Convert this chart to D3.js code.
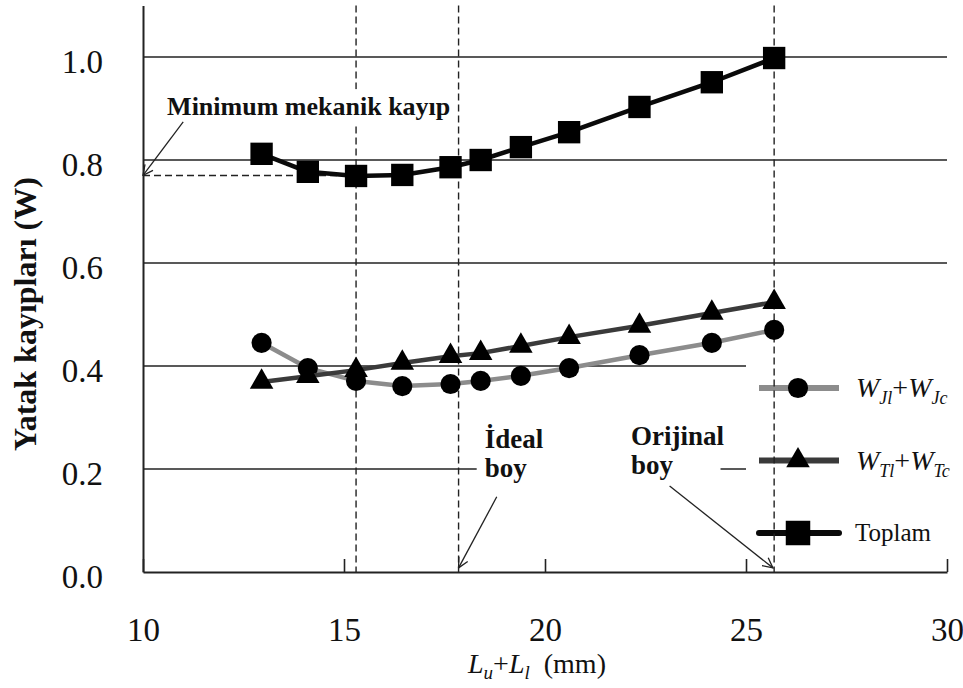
<!DOCTYPE html>
<html lang="tr">
<head>
<meta charset="utf-8">
<title>Yatak kayıpları</title>
<script src="https://d3js.org/d3.v7.min.js"></script>
<style>
  body { margin: 0; background: #fff; }
  text { font-family: "Liberation Serif", "Times New Roman", serif; fill: #111; }
</style>
</head>
<body>
<div id="chart"></div>
<script>
// values
var lengths     = [12.95, 14.1, 15.3, 16.45, 17.65, 18.4, 19.4, 20.6, 22.35, 24.15, 25.7];
var journalLoss = [0.445, 0.396, 0.371, 0.361, 0.365, 0.371, 0.381, 0.396, 0.421, 0.445, 0.470];
var thrustLoss  = [0.369, 0.380, 0.392, 0.406, 0.419, 0.425, 0.439, 0.456, 0.478, 0.503, 0.524];
var totalLoss   = [0.812, 0.777, 0.769, 0.771, 0.786, 0.800, 0.825, 0.854, 0.903, 0.951, 0.998];
var xTicks = [10, 15, 20, 25, 30];
var yTicks = [0, 0.2, 0.4, 0.6, 0.8, 1.0];
var markLines = [15.3, 17.85, 25.7];   // minimum, ideal, original length
var minLoss = 0.77;

var width = 963, height = 688;

var svg = d3.select("#chart").append("svg")
  .attr("width", width)
  .attr("height", height);

var x = d3.scaleLinear().domain([10, 30]).range([143, 947]);
var y = d3.scaleLinear().domain([0, 1.1]).range([572, 5.5]);

// arrow head (open V)
svg.append("defs").append("marker")
  .attr("id", "arrow")
  .attr("viewBox", "0 0 12 12")
  .attr("refX", 11).attr("refY", 6)
  .attr("markerWidth", 12).attr("markerHeight", 12)
  .attr("markerUnits", "userSpaceOnUse")
  .attr("orient", "auto")
  .append("path")
  .attr("d", "M1,1 L11,6 L1,11")
  .attr("fill", "none")
  .attr("stroke", "#222")
  .attr("stroke-width", 1.3);

// horizontal grid lines (lower ones stop where the legend begins)
svg.append("g").selectAll("line")
  .data(yTicks.filter(function(d) { return d > 0; }))
  .enter().append("line")
  .attr("x1", x(10))
  .attr("x2", function(d) { return d < 0.5 ? x(25) : x(30); })
  .attr("y1", function(d) { return y(d); })
  .attr("y2", function(d) { return y(d); })
  .attr("stroke", "#222")
  .attr("stroke-width", 1.6);

// legend
var series = [
  { values: journalLoss, color: "#8c8c8c", symbol: d3.symbolCircle, size: 320 },
  { values: thrustLoss,  color: "#3a3a3a", symbol: d3.symbolTriangle, size: 240 },
  { values: totalLoss,   color: "#0a0a0a", symbol: d3.symbolSquare, size: 500 }
];

var legend = svg.append("g").attr("transform", "translate(759,388)");
series.forEach(function(s, i) {
  var row = legend.append("g").attr("transform", "translate(0," + (i * 72.5) + ")");
  row.append("line")
    .attr("x1", 0).attr("x2", 80)
    .attr("stroke", s.color)
    .attr("stroke-width", 6)
    .attr("stroke-linecap", i == 2 ? "round" : "butt");
  row.append("path")
    .attr("transform", "translate(39,0)")
    .attr("d", d3.symbol().type(s.symbol).size(i == 2 ? 600 : s.size)())
    .attr("fill", "#000");
});

function subLabel(g, letter, sub1, sub2) {
  var t = g.append("text").attr("x", 97).attr("y", 9).style("font-size", "28px");
  t.append("tspan").style("font-style", "italic").text("W");
  t.append("tspan").style("font-style", "italic").style("font-size", "18px").attr("dy", 7).text(letter + sub1);
  t.append("tspan").attr("dy", -7).text("+");
  t.append("tspan").style("font-style", "italic").text("W");
  t.append("tspan").style("font-style", "italic").style("font-size", "18px").attr("dy", 7).text(letter + sub2);
}
subLabel(legend, "J", "l", "c");
subLabel(legend.append("g").attr("transform", "translate(0,72.5)"), "T", "l", "c");
legend.append("text")
  .attr("x", 96).attr("y", 145 + 8)
  .style("font-size", "25px")
  .text("Toplam");

// dashed reference lines
svg.append("g").selectAll("line")
  .data(markLines)
  .enter().append("line")
  .attr("x1", function(d) { return x(d); })
  .attr("x2", function(d) { return x(d); })
  .attr("y1", y(1.1))
  .attr("y2", y(0))
  .attr("stroke", "#222")
  .attr("stroke-width", 1.4)
  .attr("stroke-dasharray", "7,4");

svg.append("line")
  .attr("x1", x(10)).attr("x2", x(markLines[0]))
  .attr("y1", y(minLoss)).attr("y2", y(minLoss))
  .attr("stroke", "#222")
  .attr("stroke-width", 1.4)
  .attr("stroke-dasharray", "7,4");

// data series
var line = d3.line()
  .x(function(d, i) { return x(lengths[i]); })
  .y(function(d) { return y(d); });

series.forEach(function(s) {
  svg.append("path")
    .datum(s.values)
    .attr("d", line)
    .attr("fill", "none")
    .attr("stroke", s.color)
    .attr("stroke-width", 4.5)
    .attr("stroke-linejoin", "round");
  svg.append("g").selectAll("path")
    .data(s.values)
    .enter().append("path")
    .attr("transform", function(d, i) { return "translate(" + x(lengths[i]) + "," + y(d) + ")"; })
    .attr("d", d3.symbol().type(s.symbol).size(s.size)())
    .attr("fill", "#000");
});

// annotations
function label(lines, px, py, step, size) {
  var g = svg.append("g");
  var bg = g.append("rect").attr("fill", "#fff");
  var t = g.append("text")
    .style("font-size", size + "px")
    .style("font-weight", "bold");
  lines.forEach(function(s, i) {
    t.append("tspan").attr("x", px).attr("y", py + i * step).text(s);
  });
  return { g: g, bg: bg, box: t.node().getBBox() };
}

var minLabel = label(["Minimum mekanik kayıp"], x(10.6), y(0.887), 0, 26);
minLabel.bg
  .attr("x", minLabel.box.x - 3).attr("y", minLabel.box.y - 3)
  .attr("width", minLabel.box.width + 3).attr("height", minLabel.box.height + 6);

var idealLabel = label(["İdeal", "boy"], x(18.5), y(0.241), 29, 27);
var origLabel = label(["Orijinal", "boy"], x(22.14), y(0.247), 29, 27);
// one white band behind both lower labels
idealLabel.bg
  .attr("x", idealLabel.box.x - 8)
  .attr("y", idealLabel.box.y - 2)
  .attr("width", origLabel.box.x + origLabel.box.width - idealLabel.box.x + 4)
  .attr("height", idealLabel.box.height + 4);

function arrow(x1, y1, x2, y2) {
  svg.append("line")
    .attr("x1", x(x1)).attr("y1", y(y1))
    .attr("x2", x(x2)).attr("y2", y(y2))
    .attr("stroke", "#222")
    .attr("stroke-width", 1.3)
    .attr("marker-end", "url(#arrow)");
}
arrow(11.0, 0.874, 10.0, minLoss);
arrow(18.8, 0.146, markLines[1], 0.008);
arrow(23.1, 0.167, markLines[2] - 0.03, 0.008);

// axes
var xAxis = svg.append("g")
  .attr("transform", "translate(0," + y(0) + ")")
  .call(d3.axisBottom(x).tickValues(xTicks).tickSizeInner(-13).tickSizeOuter(0).tickPadding(46).tickFormat(d3.format("d")));

var yAxis = svg.append("g")
  .attr("transform", "translate(" + x(10) + ",0)")
  .call(d3.axisLeft(y).tickValues(yTicks).tickSize(0).tickPadding(40).tickFormat(d3.format(".1f")));

[xAxis, yAxis].forEach(function(a) {
  a.select(".domain").attr("stroke", "#222").attr("stroke-width", 2);
  a.selectAll(".tick line").attr("stroke", "#222").attr("stroke-width", 1.6);
  a.selectAll(".tick text")
    .attr("fill", "#111")
    .style("font-family", "'Liberation Serif', 'Times New Roman', serif")
    .style("font-size", "33px");
});
yAxis.selectAll(".tick text").attr("dy", "0.47em");

// axis titles
svg.append("text")
  .attr("transform", "translate(36,314) rotate(-90)")
  .attr("text-anchor", "middle")
  .style("font-size", "32px")
  .style("font-weight", "bold")
  .text("Yatak kayıpları (W)");

var xt = svg.append("text")
  .attr("x", 537).attr("y", 673)
  .attr("text-anchor", "middle")
  .style("font-size", "28px");
xt.append("tspan").style("font-style", "italic").text("L");
xt.append("tspan").style("font-style", "italic").style("font-size", "19px").attr("dy", 6).text("u");
xt.append("tspan").attr("dy", -6).text("+");
xt.append("tspan").style("font-style", "italic").text("L");
xt.append("tspan").style("font-style", "italic").style("font-size", "19px").attr("dy", 6).text("l");
xt.append("tspan").attr("dy", -6).text("\u00a0\u00a0(mm)");
</script>
</body>
</html>
